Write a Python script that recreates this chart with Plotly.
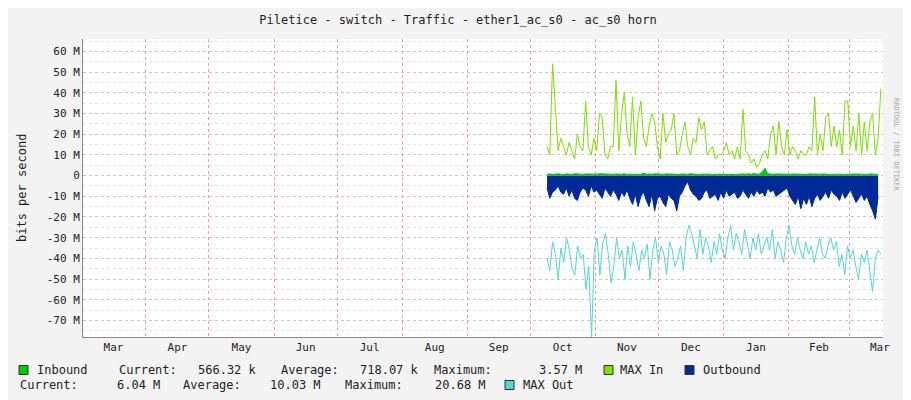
import plotly.graph_objects as go
import pandas as pd

max_in = [14,10,54,30,12,18,14,10,16,12,8,20,14,12,36,14,10,18,12,30,28,10,8,14,14,46,12,30,40,20,14,38,10,28,36,18,14,24,30,26,14,8,30,16,20,22,30,10,12,20,26,14,10,18,16,28,22,26,10,12,14,8,10,10,12,16,10,12,8,14,8,32,12,10,6,8,4,6,10,12,8,20,24,10,26,14,10,22,10,14,12,8,12,10,10,14,12,38,10,20,12,28,30,14,24,14,22,10,36,36,14,24,12,30,10,26,12,26,30,10,18,42]
outbound = [-6,-11,-8,-7,-5,-8,-9,-6,-10,-7,-11,-12,-8,-6,-7,-10,-5,-8,-7,-9,-11,-6,-8,-10,-7,-9,-12,-8,-10,-7,-11,-14,-9,-15,-10,-8,-12,-15,-9,-17,-11,-10,-13,-15,-9,-11,-12,-17,-10,-8,-5,-3,-7,-9,-10,-12,-11,-8,-7,-11,-10,-9,-12,-8,-11,-7,-10,-9,-8,-11,-10,-7,-9,-11,-8,-10,-7,-9,-8,-10,-6,-8,-7,-10,-9,-8,-7,-6,-10,-12,-14,-10,-16,-11,-14,-10,-15,-11,-9,-12,-10,-8,-11,-7,-9,-10,-12,-8,-11,-9,-7,-10,-13,-11,-9,-12,-10,-14,-17,-21,-10]
inbound = [0.6,0.8,0.5,0.7,0.9,0.6,0.5,0.8,0.7,0.6,0.9,0.7,0.5,0.6,0.8,0.7,0.6,0.5,0.7,0.9,0.8,0.6,0.5,0.7,0.6,0.8,0.7,0.6,0.9,0.5,0.7,0.6,0.8,0.7,0.6,1.2,0.7,0.8,0.6,0.9,0.7,0.5,0.6,0.8,0.7,0.6,0.5,0.7,0.6,0.8,0.7,0.6,0.9,0.7,0.6,0.5,0.7,0.8,0.6,0.7,0.5,0.6,0.8,0.7,0.6,0.7,0.8,0.6,0.5,0.7,0.6,0.8,0.7,0.9,0.6,1.0,0.7,0.8,1.6,3.57,0.9,0.7,0.6,0.8,0.7,0.6,0.5,0.7,0.6,0.8,0.7,0.6,0.5,0.7,0.6,0.8,0.7,0.6,0.5,0.7,0.8,0.6,0.7,0.5,0.6,0.8,0.7,0.6,0.5,0.7,0.6,0.8,0.7,0.9,0.6,0.7,0.6,0.8,0.7,0.6,0.57]
max_out = [-40,-46,-32,-38,-50,-35,-42,-30,-36,-45,-48,-34,-40,-38,-55,-44,-78,-36,-30,-48,-33,-28,-38,-52,-44,-30,-40,-36,-50,-34,-44,-32,-38,-46,-36,-40,-33,-50,-36,-30,-42,-34,-38,-48,-32,-36,-44,-40,-34,-46,-30,-24,-28,-34,-40,-26,-38,-30,-34,-42,-32,-38,-28,-36,-40,-30,-24,-36,-28,-32,-38,-26,-34,-40,-30,-36,-28,-38,-34,-30,-36,-26,-40,-32,-36,-42,-30,-24,-34,-38,-30,-36,-40,-32,-38,-34,-42,-36,-30,-38,-40,-34,-30,-36,-32,-44,-38,-48,-34,-40,-36,-44,-50,-38,-42,-36,-46,-56,-40,-36,-38]

x_start, x_end = "2023-03-02", "2024-03-17"
data_start, data_end = "2023-10-09", "2024-03-16"

n = len(max_in)
dates = pd.date_range(data_start, data_end, periods=n)
M = 1e6
fig = go.Figure()
fig.add_trace(go.Scatter(x=dates, y=[v*M for v in outbound[:n]], fill="tozeroy", mode="lines",
                         line=dict(color="#002A97", width=1), fillcolor="#002A97"))
fig.add_trace(go.Scatter(x=dates, y=[v*M for v in inbound[:n]], fill="tozeroy", mode="lines",
                         line=dict(color="#00CC00", width=1), fillcolor="#00CC00"))
fig.add_trace(go.Scatter(x=dates, y=[v*M for v in max_in], mode="lines", line=dict(color="#7CE000", width=1)))
fig.add_trace(go.Scatter(x=pd.date_range(data_start, data_end, periods=len(max_out)),
                         y=[v*M for v in max_out], mode="lines", line=dict(color="#50D8D5", width=1)))

tickvals = list(range(-70, 61, 10))
ticktext = [("%d M" % v) if v != 0 else "0" for v in tickvals]
mono = "DejaVu Sans Mono"
fig.update_layout(
    width=911, height=400, margin=dict(l=75, r=36, t=31, b=71),
    paper_bgcolor="#F3F3F3", plot_bgcolor="white", showlegend=False,
    font=dict(family=mono, size=11, color="#222"),
    title=dict(text="Piletice - switch - Traffic - ether1_ac_s0 - ac_s0 horn", x=0.494, y=0.982,
               xanchor="center", yanchor="top", font=dict(family=mono, size=12, color="#222")),
    xaxis=dict(range=[x_start, x_end], tick0="2023-03-01", dtick="M1", ticklabelmode="period",
               tickformat="%b", showgrid=True, gridcolor="rgba(235,120,120,0.7)", griddash="dot",
               showline=True, linecolor="#888", ticks="", zeroline=False),
    yaxis=dict(range=[-78e6, 66e6], tickvals=[v*M for v in tickvals], ticktext=ticktext,
               showgrid=True, gridcolor="rgba(210,170,170,0.6)", griddash="dot",
               minor=dict(dtick=5e6, tick0=0, showgrid=True, gridcolor="rgba(210,210,210,0.6)", griddash="dot"),
               showline=True, linecolor="#888", zeroline=False, ticks=""),
)

def px(x): return (x - 81) / 800
def py(y): return (336 - y) / 298

def txt(x, y, s):
    fig.add_annotation(x=px(x), y=py(y), xref="paper", yref="paper", text=s, showarrow=False,
                       xanchor="left", yanchor="middle", xshift=-2,
                       font=dict(family=mono, size=12, color="#222"))

def sq(x, y, c):
    fig.add_shape(type="rect", xref="paper", yref="paper", x0=px(x), x1=px(x+9), y0=py(y+4.5), y1=py(y-4.5),
                  fillcolor=c, line=dict(color="#333", width=1))

fig.add_annotation(x=px(11), y=py(187), xref="paper", yref="paper", text="bits per second",
                   showarrow=False, textangle=-90, font=dict(family=mono, size=12, color="#222"))

L1, L2 = 369, 384
sq(17, L1, "#00CC00"); txt(35, L1, "Inbound")
txt(117, L1, "Current:"); txt(196, L1, "566.32 k")
txt(279, L1, "Average:"); txt(358, L1, "718.07 k")
txt(432, L1, "Maximum:"); txt(537, L1, "3.57 M")
sq(602, L1, "#7CE000"); txt(618, L1, "MAX In")
sq(683, L1, "#002A97"); txt(701, L1, "Outbound")
txt(18, L2, "Current:"); txt(115, L2, "6.04 M"); txt(181, L2, "Average:"); txt(268, L2, "10.03 M")
txt(343, L2, "Maximum:"); txt(433, L2, "20.68 M")
sq(503, L2, "#50D8D5"); txt(521, L2, "MAX Out")
fig.add_annotation(x=px(900), y=py(95), xref="paper", yref="paper", text="RRDTOOL / TOBI OETIKER",
                   showarrow=False, textangle=90, font=dict(family=mono, size=7, color="#aaa"))
fig.write_html("out.html")
